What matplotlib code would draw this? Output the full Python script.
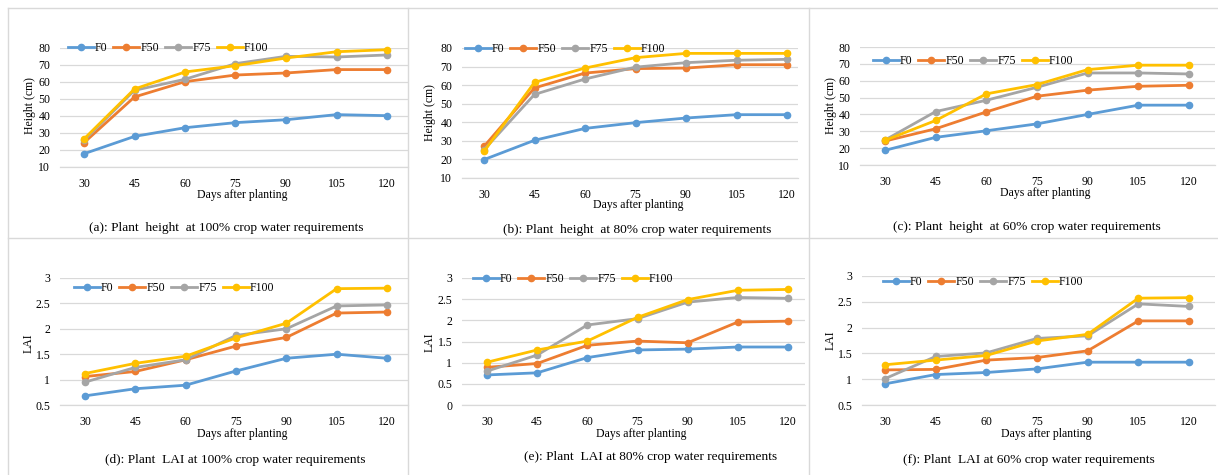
import numpy as np
import matplotlib
matplotlib.use('Agg')
import matplotlib.pyplot as plt
from matplotlib.lines import Line2D

plt.rcParams['font.family'] = ['Liberation Serif', 'DejaVu Serif']

#Data
days = ['30', '45', '60', '75', '90', '105', '120']
treatments = ['F0', 'F50', 'F75', 'F100']
colors = ['#5B9BD5', '#ED7D31', '#A5A5A5', '#FFC000']

#Plant height (cm)
height_100 = [[17.8, 28.0, 33.1, 36.1, 37.8, 40.8, 40.2],
              [24.3, 51.2, 60.2, 64.1, 65.3, 67.3, 67.3],
              [25.7, 55.1, 61.6, 70.8, 75.1, 74.7, 75.9],
              [26.5, 55.9, 65.9, 69.6, 74.1, 77.8, 79.0]]
height_80 = [[19.9, 30.3, 36.7, 39.8, 42.3, 44.1, 44.1],
             [27.0, 58.5, 66.5, 68.9, 69.2, 71.0, 71.0],
             [25.2, 55.0, 63.3, 69.7, 72.1, 73.4, 73.9],
             [24.3, 61.5, 69.2, 74.8, 77.1, 77.1, 77.1]]
height_60 = [[18.7, 26.4, 30.3, 34.4, 40.0, 45.5, 45.5],
             [24.2, 31.5, 41.5, 50.8, 54.4, 56.7, 57.3],
             [24.8, 41.7, 48.4, 56.1, 64.6, 64.6, 64.0],
             [24.6, 36.4, 52.2, 57.7, 66.6, 69.2, 69.2]]

#Leaf area index
lai_100 = [[0.68, 0.82, 0.89, 1.17, 1.42, 1.50, 1.42],
           [1.06, 1.16, 1.39, 1.66, 1.83, 2.31, 2.33],
           [0.95, 1.24, 1.39, 1.87, 2.00, 2.45, 2.47],
           [1.12, 1.32, 1.46, 1.82, 2.11, 2.79, 2.80]]
lai_80 = [[0.71, 0.76, 1.12, 1.30, 1.32, 1.37, 1.37],
          [0.89, 0.98, 1.41, 1.51, 1.47, 1.96, 1.98],
          [0.80, 1.18, 1.89, 2.04, 2.43, 2.54, 2.52],
          [1.01, 1.30, 1.51, 2.07, 2.49, 2.71, 2.73]]
lai_60 = [[0.91, 1.09, 1.13, 1.20, 1.33, 1.33, 1.33],
          [1.18, 1.19, 1.37, 1.42, 1.55, 2.13, 2.13],
          [1.01, 1.44, 1.51, 1.79, 1.84, 2.46, 2.41],
          [1.28, 1.37, 1.46, 1.74, 1.87, 2.57, 2.58]]

height_ticks = [10, 20, 30, 40, 50, 60, 70, 80]
lai_ticks = [0.5, 1, 1.5, 2, 2.5, 3]
lai_ticks_e = [0, 0.5, 1, 1.5, 2, 2.5, 3]

captions = ['(a): Plant  height  at 100% crop water requirements',
            '(b): Plant  height  at 80% crop water requirements',
            '(c): Plant  height  at 60% crop water requirements',
            '(d): Plant  LAI at 100% crop water requirements',
            '(e): Plant  LAI at 80% crop water requirements',
            '(f): Plant  LAI at 60% crop water requirements']

W, H = 1218, 475
fig = plt.figure(figsize=(W / 100, H / 100), dpi=100)
fig.patch.set_facecolor('white')

#panel layout in pixels: gridline box (x0, x1, ytop, ybot), first/last tick x,
#ylabel pos, xlabel y, caption pos, legend centre
panels = [
    dict(data=height_100, ticks=height_ticks, ylab='Height (cm)', box=(60, 408, 48, 167), tx=(84, 387),
         ylp=(30, 106), xly=195, cap=(226, 228), leg=(168, 48)),
    dict(data=height_80, ticks=height_ticks, ylab='Height (cm)', box=(462, 798, 48, 178), tx=(484, 787),
         ylp=(430, 113), xly=205, cap=(637, 230), leg=(565, 49)),
    dict(data=height_60, ticks=height_ticks, ylab='Height (cm)', box=(860, 1215, 47, 165), tx=(885, 1189),
         ylp=(831, 106), xly=193, cap=(1027, 227), leg=(973, 61)),
    dict(data=lai_100, ticks=lai_ticks, ylab='LAI', box=(60, 408, 278, 405), tx=(85, 387),
         ylp=(29, 343), xly=434, cap=(235, 460), leg=(174, 288)),
    dict(data=lai_80, ticks=lai_ticks_e, ylab='LAI', box=(462, 805, 278, 405), tx=(487, 788),
         ylp=(430, 342), xly=434, cap=(651, 457), leg=(573, 279)),
    dict(data=lai_60, ticks=lai_ticks, ylab='LAI', box=(862, 1215, 276, 405), tx=(885, 1189),
         ylp=(831, 340), xly=434, cap=(1029, 460), leg=(983, 282)),
]

x = np.arange(len(days))

for i, p in enumerate(panels):
    x0, x1, yt, yb = p['box']
    ax = fig.add_axes([x0 / W, 1 - yb / H, (x1 - x0) / W, (yb - yt) / H])
    t0, t6 = p['tx']
    scale = (t6 - t0) / 6
    ax.set_xlim(-(t0 - x0) / scale, 6 + (x1 - t6) / scale)
    ax.set_ylim(p['ticks'][0], p['ticks'][-1])

    for name, vals, c in zip(treatments, p['data'], colors):
        ax.plot(x, vals, color=c, lw=2, marker='o', markersize=4.5, label=name, clip_on=False, zorder=3)

    ax.set_yticks(p['ticks'])
    ax.set_yticklabels([('%g' % t) for t in p['ticks']])
    ax.set_xticks(x)
    ax.set_xticklabels(days)
    ax.tick_params(length=0, labelsize=8.5, colors='#000000')
    ax.tick_params(axis='y', pad=7)
    ax.tick_params(axis='x', pad=8)
    ax.grid(axis='y', color='#D9D9D9', lw=0.9)
    ax.set_axisbelow(True)
    for s in ['left', 'right', 'top']:
        ax.spines[s].set_visible(False)
    ax.spines['bottom'].set_color('#D9D9D9')
    ax.spines['bottom'].set_linewidth(0.9)

    fig.text(p['ylp'][0] / W, 1 - p['ylp'][1] / H, p['ylab'], rotation=90,
             ha='center', va='center', fontsize=8.5)
    fig.text(((x0 + x1) / 2 + 8) / W, 1 - p['xly'] / H, 'Days after planting',
             ha='center', va='center', fontsize=8.5)
    fig.text(p['cap'][0] / W, 1 - p['cap'][1] / H, captions[i],
             ha='center', va='center', fontsize=9.6)

    ax.legend(loc='center', bbox_to_anchor=(p['leg'][0] / W, 1 - p['leg'][1] / H),
              bbox_transform=fig.transFigure, ncol=4, frameon=False, fontsize=8.5,
              handlelength=2.2, handletextpad=0.1, columnspacing=0.5, borderpad=0)

#light grey cell borders
for xx in [8, 408, 809]:
    fig.add_artist(Line2D([xx / W, xx / W], [1 - 8 / H, 0], color='#D9D9D9', lw=1))
for yy in [8, 238]:
    fig.add_artist(Line2D([8 / W, 1], [1 - yy / H, 1 - yy / H], color='#D9D9D9', lw=1))

fig.savefig('out.png', dpi=100)
